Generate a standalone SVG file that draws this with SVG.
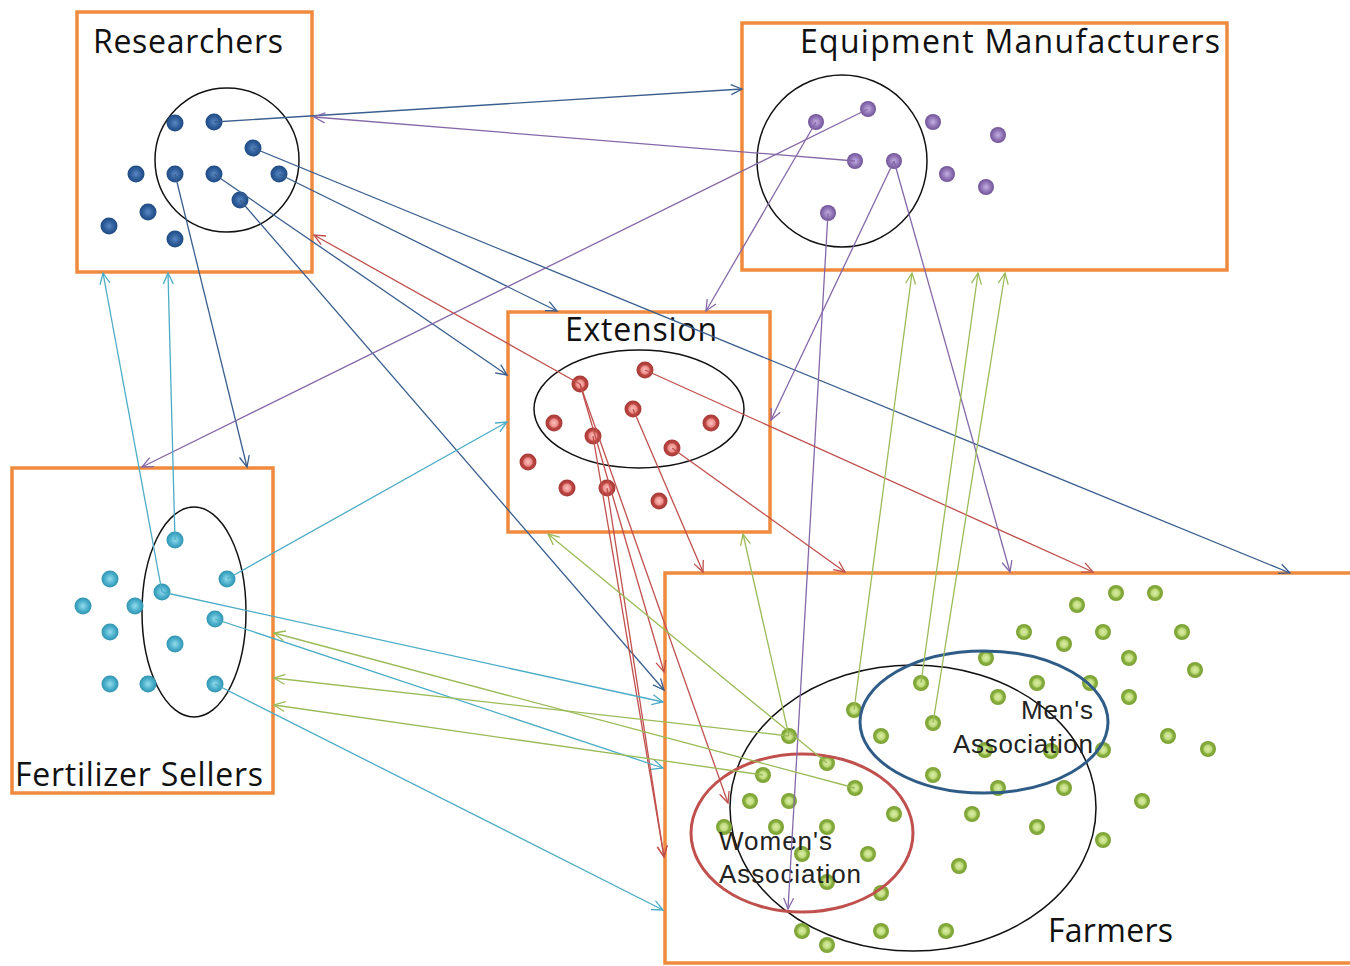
<svg xmlns="http://www.w3.org/2000/svg" width="1350" height="966" viewBox="0 0 1350 966">
<style>
.box{fill:#fff;stroke:#F08A3E;stroke-width:3.5}
.grp{fill:none;stroke:#111;stroke-width:1.5}
.title{font-family:"Open Sans","Liberation Sans",sans-serif;font-size:32px;fill:#111}
.assoc{font-family:"Liberation Sans",Arial,sans-serif;font-size:26px;fill:#222}
.c{fill:none;stroke-width:1.3}
.b{stroke:#3A5E8E}
.p{stroke:#8468A8}
.r{stroke:#C0504D}
.cy{stroke:#4BACC6}
.g{stroke:#9BBB59}
</style>
<defs>
<radialGradient id="gB"><stop offset="0" stop-color="#5a88c2"/><stop offset="0.6" stop-color="#2f5e9c"/><stop offset="1" stop-color="#1f4a80"/></radialGradient>
<radialGradient id="gP"><stop offset="0" stop-color="#c4b0e2"/><stop offset="0.55" stop-color="#9479ba"/><stop offset="1" stop-color="#6f5296"/></radialGradient>
<radialGradient id="gR"><stop offset="0" stop-color="#f9c0be"/><stop offset="0.45" stop-color="#ec8e8a"/><stop offset="0.62" stop-color="#bb4642"/><stop offset="1" stop-color="#a63936"/></radialGradient>
<radialGradient id="gC"><stop offset="0" stop-color="#97dbec"/><stop offset="0.6" stop-color="#4bb0cc"/><stop offset="1" stop-color="#2f93b0"/></radialGradient>
<radialGradient id="gG"><stop offset="0" stop-color="#dcedab"/><stop offset="0.45" stop-color="#bfdb7c"/><stop offset="0.65" stop-color="#88ae3e"/><stop offset="1" stop-color="#7aa033"/></radialGradient>
<marker id="aB" markerUnits="userSpaceOnUse" markerWidth="14" markerHeight="12" refX="11" refY="5" orient="auto" overflow="visible"><path d="M0,0 L11,5 L0,10" fill="none" stroke="#3A5E8E" stroke-width="1.3"/></marker>
<marker id="aP" markerUnits="userSpaceOnUse" markerWidth="14" markerHeight="12" refX="11" refY="5" orient="auto" overflow="visible"><path d="M0,0 L11,5 L0,10" fill="none" stroke="#8468A8" stroke-width="1.3"/></marker>
<marker id="aR" markerUnits="userSpaceOnUse" markerWidth="14" markerHeight="12" refX="11" refY="5" orient="auto" overflow="visible"><path d="M0,0 L11,5 L0,10" fill="none" stroke="#C0504D" stroke-width="1.3"/></marker>
<marker id="aC" markerUnits="userSpaceOnUse" markerWidth="14" markerHeight="12" refX="11" refY="5" orient="auto" overflow="visible"><path d="M0,0 L11,5 L0,10" fill="none" stroke="#4BACC6" stroke-width="1.3"/></marker>
<marker id="aG" markerUnits="userSpaceOnUse" markerWidth="14" markerHeight="12" refX="11" refY="5" orient="auto" overflow="visible"><path d="M0,0 L11,5 L0,10" fill="none" stroke="#9BBB59" stroke-width="1.3"/></marker>
</defs>
<rect width="1350" height="966" fill="#fff"/>

<g id="researchers">
<rect class="box" x="77" y="12" width="235" height="260"/>
<text class="title" x="93" y="53" textLength="190">Researchers</text>
<ellipse class="grp" cx="227" cy="160" rx="72" ry="72"/>
<g fill="url(#gB)">
<circle cx="175" cy="123" r="8.5"/><circle cx="214" cy="122" r="8.5"/><circle cx="253" cy="148" r="8.5"/>
<circle cx="136" cy="174" r="8.5"/><circle cx="175" cy="174" r="8.5"/><circle cx="214" cy="174" r="8.5"/><circle cx="279" cy="174" r="8.5"/>
<circle cx="240" cy="200" r="8.5"/><circle cx="148" cy="212" r="8.5"/><circle cx="109" cy="226" r="8.5"/><circle cx="175" cy="239" r="8.5"/>
</g>
</g>

<g id="equipment">
<rect class="box" x="742" y="23" width="485" height="247"/>
<text class="title" x="800" y="53" textLength="420">Equipment Manufacturers</text>
<ellipse class="grp" cx="842" cy="161" rx="85" ry="86"/>
<g fill="url(#gP)">
<circle cx="816" cy="122" r="8"/><circle cx="868" cy="109" r="8"/><circle cx="933" cy="122" r="8"/><circle cx="998" cy="135" r="8"/>
<circle cx="855" cy="161" r="8"/><circle cx="894" cy="161" r="8"/><circle cx="947" cy="174" r="8"/><circle cx="986" cy="187" r="8"/>
<circle cx="828" cy="213" r="8"/>
</g>
</g>

<g id="extension">
<rect class="box" x="508" y="312" width="262" height="220"/>
<text class="title" x="565" y="341" textLength="152">Extension</text>
<ellipse class="grp" cx="639" cy="409" rx="105" ry="59"/>
<g fill="url(#gR)">
<circle cx="645" cy="370" r="8.5"/><circle cx="580" cy="384" r="8.5"/><circle cx="633" cy="409" r="8.5"/>
<circle cx="554" cy="423" r="8.5"/><circle cx="711" cy="423" r="8.5"/><circle cx="593" cy="436" r="8.5"/>
<circle cx="672" cy="448" r="8.5"/><circle cx="528" cy="462" r="8.5"/><circle cx="567" cy="488" r="8.5"/>
<circle cx="607" cy="488" r="8.5"/><circle cx="659" cy="501" r="8.5"/>
</g>
</g>

<g id="fertilizer">
<rect class="box" x="12" y="468" width="261" height="325"/>
<text class="title" x="15" y="786" textLength="248">Fertilizer Sellers</text>
<ellipse class="grp" cx="194" cy="612" rx="52" ry="105"/>
<g fill="url(#gC)">
<circle cx="175" cy="540" r="8.5"/><circle cx="110" cy="579" r="8.5"/><circle cx="227" cy="579" r="8.5"/>
<circle cx="162" cy="592" r="8.5"/><circle cx="83" cy="606" r="8.5"/><circle cx="135" cy="606" r="8.5"/>
<circle cx="215" cy="619" r="8.5"/><circle cx="110" cy="632" r="8.5"/><circle cx="175" cy="644" r="8.5"/>
<circle cx="110" cy="684" r="8.5"/><circle cx="148" cy="684" r="8.5"/><circle cx="215" cy="684" r="8.5"/>
</g>
</g>

<g id="farmers">
<rect class="box" x="665" y="573" width="700" height="390"/>
<text class="title" x="1048" y="942" font-size="31" textLength="125">Farmers</text>
<ellipse class="grp" cx="913" cy="808" rx="183" ry="143"/>
<g fill="url(#gG)">
<circle cx="1077" cy="605" r="8"/><circle cx="1116" cy="593" r="8"/><circle cx="1155" cy="593" r="8"/>
<circle cx="1024" cy="632" r="8"/><circle cx="1103" cy="632" r="8"/><circle cx="1182" cy="632" r="8"/>
<circle cx="1064" cy="644" r="8"/><circle cx="986" cy="658" r="8"/><circle cx="1129" cy="658" r="8"/>
<circle cx="1195" cy="670" r="8"/><circle cx="921" cy="683" r="8"/><circle cx="1037" cy="683" r="8"/>
<circle cx="1090" cy="683" r="8"/><circle cx="998" cy="697" r="8"/><circle cx="1129" cy="697" r="8"/>
<circle cx="854" cy="710" r="8"/><circle cx="933" cy="723" r="8"/><circle cx="789" cy="736" r="8"/>
<circle cx="881" cy="736" r="8"/><circle cx="1168" cy="736" r="8"/><circle cx="985" cy="750" r="8"/>
<circle cx="1051" cy="751" r="8"/><circle cx="1103" cy="750" r="8"/><circle cx="1208" cy="749" r="8"/>
<circle cx="827" cy="763" r="8"/><circle cx="933" cy="775" r="8"/><circle cx="763" cy="775" r="8"/>
<circle cx="998" cy="788" r="8"/><circle cx="1064" cy="788" r="8"/><circle cx="855" cy="788" r="8"/>
<circle cx="750" cy="801" r="8"/><circle cx="789" cy="801" r="8"/><circle cx="1142" cy="801" r="8"/>
<circle cx="894" cy="814" r="8"/><circle cx="972" cy="814" r="8"/><circle cx="1037" cy="827" r="8"/>
<circle cx="724" cy="827" r="8"/><circle cx="776" cy="827" r="8"/><circle cx="827" cy="827" r="8"/>
<circle cx="1103" cy="840" r="8"/><circle cx="802" cy="854" r="8"/><circle cx="868" cy="854" r="8"/>
<circle cx="959" cy="866" r="8"/><circle cx="827" cy="882" r="8"/><circle cx="881" cy="893" r="8"/>
<circle cx="802" cy="931" r="8"/><circle cx="881" cy="931" r="8"/><circle cx="946" cy="931" r="8"/>
<circle cx="827" cy="945" r="8"/>
</g>
<g id="mens-association">
<ellipse cx="984" cy="722" rx="124" ry="71" fill="none" stroke="#2F5C87" stroke-width="3"/>
<text class="assoc" x="1021" y="719" textLength="72">Men's</text>
<text class="assoc" x="953" y="753" textLength="140">Association</text>
</g>
<g id="womens-association">
<ellipse cx="802" cy="833" rx="111" ry="79" fill="none" stroke="#C0504D" stroke-width="3"/>
<text class="assoc" x="719" y="850" textLength="113">Women's</text>
<text class="assoc" x="719" y="883" textLength="142">Association</text>
</g>
</g>

<g id="connectors">
<g class="c b" marker-end="url(#aB)">
<path d="M214,122 L742,89"/>
<path d="M279,174 L557,311"/>
<path d="M253,148 L1290,573"/>
<path d="M214,174 L507,375"/>
<path d="M240,200 L664,690"/>
<path d="M175,174 L247,467"/>
</g>
<g class="c p" marker-end="url(#aP)">
<path d="M855,161 L314,117"/>
<path d="M868,109 L142,467"/>
<path d="M816,122 L706,311"/>
<path d="M894,161 L771,420"/>
<path d="M894,161 L1010,572"/>
<path d="M828,213 L788,909"/>
</g>
<g class="c r" marker-end="url(#aR)">
<path d="M580,384 L314,235"/>
<path d="M645,370 L1093,572"/>
<path d="M633,409 L703,572"/>
<path d="M672,448 L845,572"/>
<path d="M580,384 L664,672"/>
<path d="M580,384 L728,803"/>
<path d="M593,436 L664,857"/>
<path d="M607,488 L664,857"/>
</g>
<g class="c cy" marker-end="url(#aC)">
<path d="M162,592 L103,273"/>
<path d="M175,540 L168,273"/>
<path d="M227,579 L507,422"/>
<path d="M162,592 L663,702"/>
<path d="M215,619 L663,768"/>
<path d="M215,684 L663,910"/>
</g>
<g class="c g" marker-end="url(#aG)">
<path d="M854,710 L912,273"/>
<path d="M921,683 L978,273"/>
<path d="M933,723 L1005,273"/>
<path d="M789,736 L743,534"/>
<path d="M827,763 L548,534"/>
<path d="M855,788 L274,633"/>
<path d="M789,736 L274,678"/>
<path d="M763,775 L274,705"/>
</g>
</g>
</svg>
